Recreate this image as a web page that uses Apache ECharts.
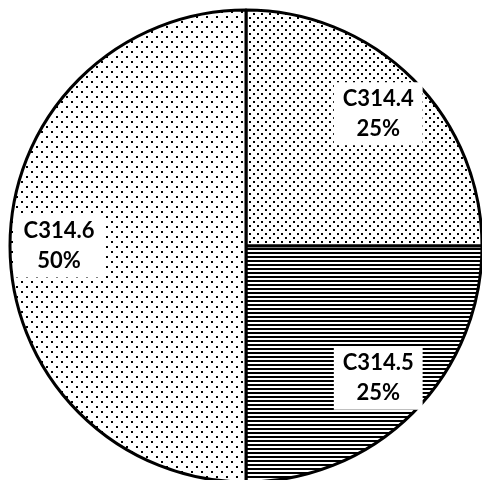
<!DOCTYPE html>
<html>
<head>
<meta charset="utf-8">
<script src="https://cdn.jsdelivr.net/npm/echarts@6/dist/echarts.min.js"></script>
<style>
  html, body { margin: 0; padding: 0; background: #fff; }
  #chart { width: 482px; height: 480px; }
</style>
</head>
<body>
<div id="chart"></div>
<script>
const categories = ['C314.4', 'C314.5', 'C314.6']
const values = [25, 25, 50]

// fill patterns, drawn on small tiles
function makeTile(w, h, draw) {
  const c = document.createElement('canvas')
  c.width = w
  c.height = h
  const ctx = c.getContext('2d')
  ctx.fillStyle = '#fff'
  ctx.fillRect(0, 0, w, h)
  ctx.fillStyle = '#000'
  draw(ctx)
  return c
}

const denseDots = makeTile(8, 8, ctx => {
  ctx.fillRect(1, 1, 2, 2)
  ctx.fillRect(5, 5, 2, 2)
})
const hLines = makeTile(4, 4, ctx => {
  ctx.fillRect(0, 0, 4, 2)
})
const sparseDots = makeTile(10, 10, ctx => {
  ctx.fillRect(1, 1, 2, 2)
  ctx.fillRect(6, 6, 2, 2)
})
const patterns = [denseDots, hLines, sparseDots]

const chart = echarts.init(document.getElementById('chart'))

const center = [246, 246]
const radius = 236

chart.setOption({
  animation: false,
  series: [
    {
      type: 'pie',
      center: center,
      radius: radius,
      startAngle: 90,
      clockwise: true,
      silent: true,
      label: { show: false },
      labelLine: { show: false },
      data: categories.map((name, i) => ({
        name: name,
        value: values[i],
        itemStyle: {
          color: { image: patterns[i], repeat: 'repeat' },
          borderColor: '#000',
          borderWidth: 3
        }
      }))
    },
    {
      // transparent copy, only carries the labels further out
      type: 'pie',
      center: center,
      radius: [132, radius],
      startAngle: 90,
      clockwise: true,
      silent: true,
      z: 5,
      itemStyle: { color: 'rgba(0,0,0,0)' },
      labelLine: { show: false },
      label: {
        show: true,
        position: 'inside',
        formatter: '{b}\n{d}%',
        fontFamily: 'Lato',
        fontWeight: 'bold',
        fontSize: 22,
        lineHeight: 30,
        color: '#000',
        backgroundColor: '#fff',
        padding: [2, 9, 1, 9]
      },
      data: categories.map((name, i) => ({ name: name, value: values[i] }))
    }
  ]
})
</script>
</body>
</html>
